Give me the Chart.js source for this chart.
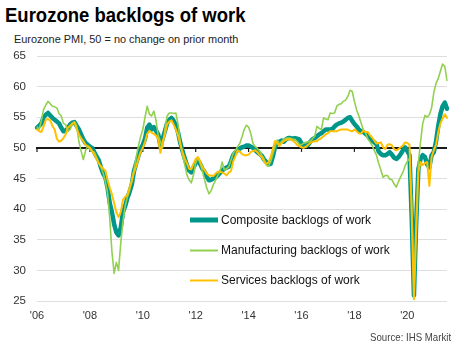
<!DOCTYPE html>
<html>
<head>
<meta charset="utf-8">
<script src="https://cdn.jsdelivr.net/npm/chart.js@4/dist/chart.umd.min.js"></script>
<style>
  html, body { margin: 0; padding: 0; background: #fff; }
  body { width: 462px; height: 350px; position: relative; overflow: hidden;
         font-family: "Liberation Sans", Arial, sans-serif; }
  #title { position: absolute; left: 5px; top: 5px; font-size: 20px; line-height: 20px;
           font-weight: bold; color: #000; white-space: nowrap;
           transform: scaleX(0.925); transform-origin: left top; }
  #subtitle { position: absolute; left: 14px; top: 34px; font-size: 11.5px; line-height: 11.5px;
              color: #222; white-space: nowrap;
              transform: scaleX(0.95); transform-origin: left top; }
  #source { position: absolute; right: 11px; top: 332px; font-size: 10.5px; line-height: 10.5px;
            color: #444; white-space: nowrap;
            transform: scaleX(0.92); transform-origin: right top; }
  canvas { position: absolute; left: 0; top: 0; }
</style>
</head>
<body>
<div id="title">Eurozone backlogs of work</div>
<div id="subtitle">Eurozone PMI, 50 = no change on prior month</div>
<canvas id="chart" width="462" height="350"></canvas>
<div id="source">Source: IHS Markit</div>
<script>
// Monthly readings, January 2006 to July 2021
const startYear = 2006;
const tickLabels = ["'06", "'08", "'10", "'12", "'14", "'16", "'18", "'20"];
const seriesNames = ["Composite backlogs of work", "Manufacturing backlogs of work", "Services backlogs of work"];

const composite = [
  53.3, 53.6, 54.0, 55.0, 55.4, 55.7, 55.3, 54.9, 54.6, 54.3, 54.0, 53.3,
  52.7, 52.8, 53.2, 53.8, 54.1, 54.2, 53.6, 53.0, 52.2, 51.4, 50.8, 50.5,
  50.2, 50.0, 49.3, 48.6, 48.0, 46.8, 45.8, 45.2, 43.5, 41.0, 39.5, 37.5,
  36.2, 35.7, 37.0, 39.5, 40.5, 41.8, 42.8, 44.0, 46.2, 47.5, 48.7, 49.8,
  50.5, 51.5, 53.3, 53.8, 53.0, 53.4, 52.8, 52.2, 50.3, 51.5, 52.7, 54.0,
  54.6, 54.9, 54.4, 53.7, 52.5, 50.8, 49.5, 48.3, 47.2, 46.3, 46.0, 46.8,
  47.5, 48.0, 47.4, 46.6, 46.1, 45.3, 44.7, 44.8, 45.0, 45.2, 45.5, 45.9,
  46.3, 46.6, 46.8, 46.9, 47.8, 48.8, 49.3, 49.6, 49.9, 50.1, 50.2, 50.4,
  50.4, 50.2, 50.0, 49.6, 49.3, 49.0, 48.7, 48.1, 47.7, 47.3, 47.4, 48.6,
  50.2, 50.7, 51.0, 51.2, 51.0, 51.4, 51.6, 51.6, 51.5, 51.6, 51.5, 51.4,
  50.7, 50.4, 50.3, 50.5, 51.0, 51.4, 51.6, 51.9, 52.2, 52.4, 52.7, 53.0,
  53.0, 53.0, 53.1, 53.5, 53.8, 54.0, 54.1, 54.3, 54.6, 54.9, 55.0, 54.4,
  53.9, 53.5, 53.0, 52.7, 52.6, 52.3, 52.0, 51.6, 51.2, 50.9, 50.6, 49.4,
  49.0, 48.8, 48.8, 49.0, 49.3, 48.9, 48.4, 48.2, 48.5, 49.0, 49.6, 50.1,
  49.5, 48.8, 38.5, 25.9, 37.5, 46.5, 48.2, 48.8, 48.5, 47.3, 46.8, 48.8,
  49.3, 51.0, 53.5, 55.5, 56.8, 57.4, 56.4
];

const manufacturing = [
  53.4, 53.0, 54.5, 56.3, 57.0, 57.6, 57.2, 56.8, 56.7, 56.5, 55.6, 55.2,
  54.0, 53.8, 52.7, 53.0, 53.8, 54.3, 53.6, 51.0, 49.5, 48.1, 49.5, 50.3,
  49.7, 49.5, 49.3, 48.5, 47.6, 46.8, 45.9, 44.5, 42.7, 38.5, 33.0, 29.5,
  31.3, 30.0, 34.5, 38.0, 40.5, 42.0, 43.0, 45.0, 46.5, 48.5, 50.3, 51.8,
  53.0, 55.0, 56.8, 55.5, 55.2, 56.0, 54.5, 52.0, 51.0, 50.0, 53.0, 55.2,
  55.7, 55.7, 55.6, 55.7, 53.8, 51.0, 48.8, 47.3, 45.6, 44.8, 44.3, 45.6,
  47.5, 48.4, 47.5, 46.3, 44.8, 43.5, 42.5, 43.0, 44.0, 44.7, 45.5, 46.1,
  47.7, 46.4, 46.6, 46.9, 48.0, 49.1, 49.6, 50.2, 50.7, 51.8, 53.0, 53.7,
  53.4, 52.3, 50.7, 50.2, 49.9, 49.5, 48.8, 48.2, 47.2, 47.0, 47.7, 49.0,
  50.2, 51.3, 50.6, 51.1, 51.4, 51.6, 51.6, 51.6, 51.4, 51.4, 51.0, 50.6,
  50.5, 50.8, 50.9, 51.0, 51.1, 51.5, 51.9, 53.5, 53.2, 53.0, 54.9, 54.7,
  54.6, 55.7, 55.6, 55.7, 56.8, 57.1, 57.2, 57.6, 57.8, 58.4, 59.4, 59.2,
  57.6, 56.2, 55.2, 54.1, 53.0, 52.5, 51.5, 51.0, 50.4, 49.6, 48.8, 47.5,
  46.4, 45.2, 45.5, 45.5, 44.9, 44.8, 44.1, 43.6, 44.5, 45.3, 46.0, 47.1,
  47.8, 48.3, 41.0, 27.0, 38.0, 47.5, 51.0, 54.0, 55.3, 55.0, 55.4, 56.5,
  59.0, 60.5, 61.3, 62.5, 63.7, 63.3, 61.0
];

const services = [
  53.0, 52.7, 52.6, 53.5, 54.6, 54.7, 54.5, 53.6, 53.0, 51.5, 51.0, 51.2,
  51.6, 52.2, 53.3, 53.6, 54.0, 54.1, 53.2, 52.2, 51.6, 51.1, 50.5, 50.3,
  50.0, 49.5, 48.9, 48.2, 47.5, 47.0, 46.6, 46.3, 44.8, 43.5, 42.4, 41.0,
  39.5, 38.7, 39.5, 41.5, 42.0, 42.3, 43.5, 44.5, 46.0, 47.0, 48.2, 49.3,
  50.0, 51.0, 52.3, 52.8, 52.5, 52.3, 52.0, 51.4, 49.2, 51.0, 52.2, 53.8,
  54.3, 54.5, 53.8, 53.0, 52.0, 50.6, 49.3, 48.3, 47.5, 46.6, 46.5, 47.4,
  48.2, 48.5, 47.8, 46.9, 46.4, 45.8, 45.5, 45.5, 45.4, 45.8, 46.1, 46.1,
  46.0, 45.8, 45.5, 46.0, 46.2, 47.8, 48.6, 49.6, 49.4, 49.0, 48.8, 48.8,
  48.9, 49.3, 49.5, 49.6, 49.3, 48.8, 48.5, 47.8, 47.4, 47.6, 48.5, 49.8,
  51.1, 50.8, 50.3, 50.8, 51.1, 51.3, 51.4, 51.4, 51.2, 50.9, 50.5, 50.3,
  50.1, 50.0, 50.2, 50.5, 50.8, 51.0, 51.1, 51.1, 51.4, 51.6, 51.9, 52.2,
  52.4, 52.7, 52.7, 52.7, 52.7, 52.9, 53.0, 53.0, 53.0, 53.0, 52.8, 52.7,
  53.0, 52.7, 52.4, 52.3, 52.8, 52.6, 52.6, 52.1, 51.7, 51.2, 50.7, 50.8,
  50.9, 50.1, 49.8, 50.5, 50.6, 50.4, 49.8, 49.6, 49.8, 50.1, 50.4, 50.9,
  50.8, 50.5, 39.0, 25.3, 36.0, 46.0, 47.7, 47.2, 47.5, 47.7, 43.8, 48.5,
  49.6, 50.5, 52.5, 54.0, 54.8, 55.5, 54.9
];

// Month labels "YYYY-MM" for the category axis
const months = composite.map((_, i) => {
  const y = startYear + Math.floor(i / 12);
  const m = (i % 12) + 1;
  return y + '-' + (m < 10 ? '0' + m : m);
});

const FONT = '"Liberation Sans", Arial, sans-serif';

// Is this month index the start of a labelled (even) year?
const isTickIndex = i => i % 24 === 0 && (i / 24) < tickLabels.length;

// Black no-change line at 50, with small year ticks hanging from it
const baselinePlugin = {
  id: 'baseline',
  beforeDatasetsDraw(chart) {
    const { ctx, chartArea, scales } = chart;
    const y = scales.y.getPixelForValue(50);
    ctx.save();
    ctx.strokeStyle = '#1a1a1a';
    ctx.lineWidth = 2;
    ctx.beginPath();
    ctx.moveTo(chartArea.left - 1, y);
    ctx.lineTo(chartArea.right, y);
    ctx.stroke();
    ctx.lineWidth = 1.2;
    months.forEach((_, i) => {
      if (!isTickIndex(i)) return;
      const x = scales.x.getPixelForValue(i);
      ctx.beginPath();
      ctx.moveTo(x, y);
      ctx.lineTo(x, y + 4);
      ctx.stroke();
    });
    ctx.restore();
  }
};

// Legend drawn inside the plot, one row per series
const innerLegendPlugin = {
  id: 'innerLegend',
  afterDatasetsDraw(chart) {
    const { ctx } = chart;
    const rows = [220, 250.5, 280.5];
    ctx.save();
    ctx.font = '12px ' + FONT;
    ctx.textBaseline = 'middle';
    chart.data.datasets.forEach((ds, i) => {
      const y = rows[i];
      ctx.strokeStyle = ds.borderColor;
      ctx.lineWidth = ds.legendWidth;
      ctx.lineCap = 'butt';
      ctx.beginPath();
      ctx.moveTo(190, y);
      ctx.lineTo(218, y);
      ctx.stroke();
      ctx.fillStyle = '#111';
      ctx.fillText(ds.label, 221, y + 0.5);
    });
    ctx.restore();
  }
};

new Chart(document.getElementById('chart'), {
  type: 'line',
  data: {
    labels: months,
    datasets: [
      { label: seriesNames[0], data: composite, borderColor: '#00968a', borderWidth: 4.5,
        legendWidth: 5, order: 3 },
      { label: seriesNames[1], data: manufacturing, borderColor: '#92d050', borderWidth: 1.6,
        legendWidth: 2, order: 2 },
      { label: seriesNames[2], data: services, borderColor: '#ffc000', borderWidth: 2,
        legendWidth: 2, order: 1 }
    ]
  },
  options: {
    responsive: false,
    animation: false,
    devicePixelRatio: 1,
    layout: { padding: { top: 56, right: 15, left: 0, bottom: 0 } },
    elements: {
      point: { radius: 0 },
      line: { tension: 0, borderJoinStyle: 'round', borderCapStyle: 'round', fill: false }
    },
    plugins: {
      legend: { display: false },
      tooltip: { enabled: false },
      title: { display: false }
    },
    scales: {
      x: {
        type: 'category',
        offset: false,
        grid: { display: false, drawTicks: false },
        border: { display: false },
        afterFit: s => { s.height = 49; },
        ticks: {
          autoSkip: false,
          maxRotation: 0,
          padding: 8,
          color: '#333',
          font: { family: FONT, size: 11 },
          callback: (v, i) => isTickIndex(i) ? tickLabels[i / 24] : null
        }
      },
      y: {
        min: 25,
        max: 65,
        grid: { color: '#dedede', lineWidth: 1, drawTicks: false },
        border: { display: false },
        afterFit: s => { s.width = 37; },
        ticks: {
          stepSize: 5,
          padding: 11,
          color: '#333',
          font: { family: FONT, size: 11.5 }
        }
      }
    }
  },
  plugins: [baselinePlugin, innerLegendPlugin]
});
</script>
</body>
</html>
